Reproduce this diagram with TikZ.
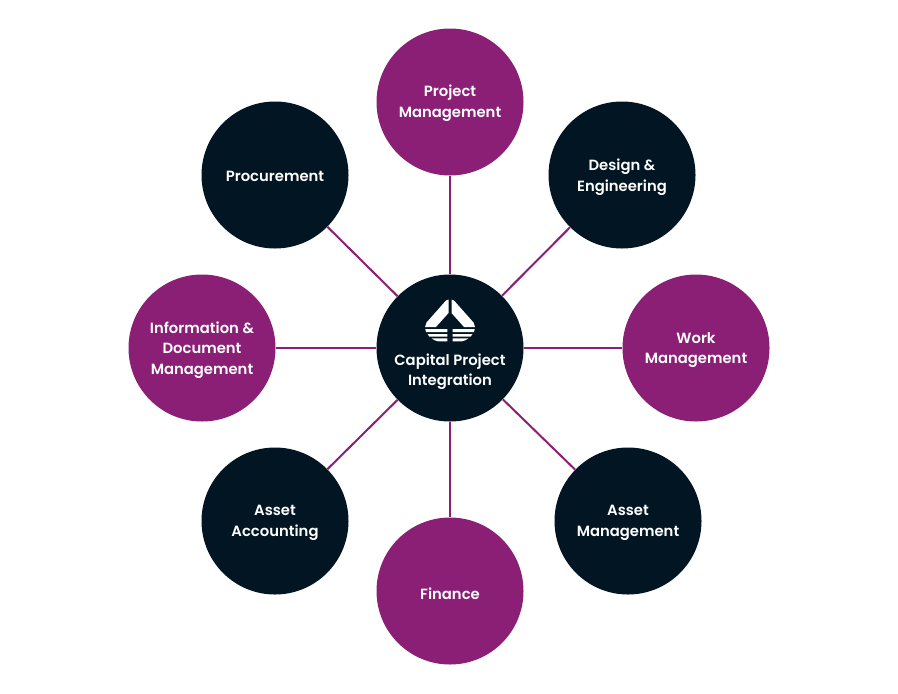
\documentclass[tikz,border=0pt]{standalone}
\usepackage{fontspec}
\setmainfont[BoldFont={Poppins SemiBold}]{Poppins}
\usetikzlibrary{positioning}
\definecolor{plum}{HTML}{8B1F76}
\definecolor{navy}{HTML}{011522}
\begin{document}
\begin{tikzpicture}[
        x=0.75pt, y=-0.75pt,
        hub/.style={circle, draw=none, minimum size=110.25pt, inner sep=0pt},
        darkhub/.style={hub, fill=navy},
        plumhub/.style={hub, fill=plum},
        hubtext/.style={text=white, align=center, inner sep=0pt, yshift=-1.5pt,
            font=\bfseries\fontsize{11.1}{15.4}\selectfont},
        spoke/.style={plum, line width=1.5pt},
        logo/.style={fill=white}
    ]
    \useasboundingbox (0,0) rectangle (898,693);
    % outer circles
    \node[plumhub, label={[hubtext, yshift=.75pt]center:Project\\Management}] (project) at (450,102) {};
    \node[darkhub, label={[hubtext]center:Design \&\\Engineering}] (design) at (622,175) {};
    \node[plumhub, label={[hubtext]center:Work\\Management}] (work) at (696,348) {};
    \node[darkhub, label={[hubtext]center:Asset\\Management}] (assetmgmt) at (628,521) {};
    \node[plumhub, label={[hubtext, yshift=-.75pt]center:Finance}] (finance) at (450,591) {};
    \node[darkhub, label={[hubtext]center:Asset\\Accounting}] (accounting) at (275,521) {};
    \node[plumhub, label={[hubtext]center:Information \&\\Document\\Management}] (info) at (202,348) {};
    \node[darkhub, label={[hubtext, yshift=.75pt]center:Procurement}] (procurement) at (275,175) {};
    % centre circle
    \node[darkhub] (capital) at (450,348) {};
    % spokes
    \foreach \n in {project,design,work,assetmgmt,finance,accounting,info,procurement}
        \draw[spoke] (capital) -- (\n);
    % logo
    \foreach \s in {1,-1} {
        \begin{scope}[shift={(450,0)}, xscale=\s]
            \fill[logo] (-1.5,313) -- (-1.5,299.5) -- (-4,300.5) -- (-23.5,322.5)
                .. controls (-25,324.5) .. (-25,327) -- (-14,327) -- cycle;
            \fill[logo] (-2.7,329) -- (-24.7,329) -- (-24,332) -- (-2.7,332) -- cycle;
            \fill[logo] (-2.7,334) -- (-22.5,334) -- (-20.5,336.7) -- (-2.7,336.7) -- cycle;
            \fill[logo] (-2.7,338.3) -- (-18.5,338.3) -- (-15.5,340.2) -- (-12,341.3) -- (-2.7,341.3) -- cycle;
        \end{scope}
    }
    \node[hubtext] (capitallabel) at (450,369.5) {Capital Project\\Integration};
\end{tikzpicture}
\end{document}
